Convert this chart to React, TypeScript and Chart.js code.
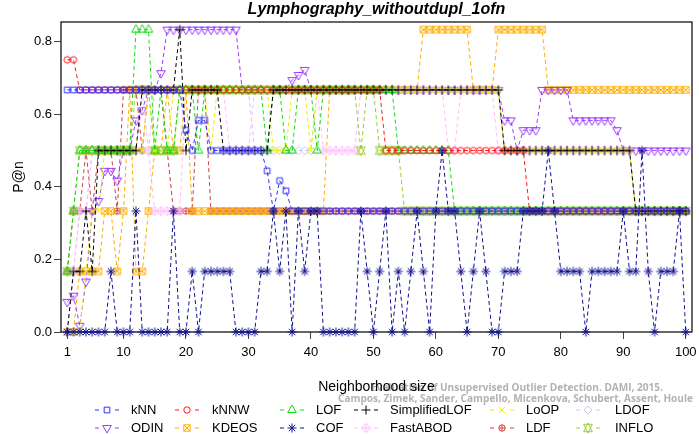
import React, { useEffect, useRef } from "react";
import { Chart, registerables } from "chart.js";
Chart.register(...registerables);

// x categories: neighborhood size k = 1..100
const neighborhoodSizes: number[] = Array.from({ length: 100 }, (_, i) => i + 1);
const xTickValues = [1, 10, 20, 30, 40, 50, 60, 70, 80, 90, 100];
const yTickValues = [0, 0.2, 0.4, 0.6, 0.8];

const kNN = [
  0.667, 0.667, 0.667, 0.667, 0.667, 0.667, 0.667, 0.667, 0.667, 0.667,
  0.667, 0.667, 0.667, 0.667, 0.667, 0.667, 0.667, 0.667, 0.667, 0.556,
  0.5, 0.583, 0.583, 0.5, 0.5, 0.5, 0.5, 0.5, 0.5, 0.5,
  0.5, 0.5, 0.444, 0.333, 0.417, 0.389, 0.333, 0.333, 0.333, 0.333,
  0.333, 0.333, 0.333, 0.333, 0.333, 0.333, 0.333, 0.333, 0.333, 0.333,
  0.333, 0.333, 0.333, 0.333, 0.333, 0.333, 0.333, 0.333, 0.333, 0.333,
  0.333, 0.333, 0.333, 0.333, 0.333, 0.333, 0.333, 0.333, 0.333, 0.333,
  0.333, 0.333, 0.333, 0.333, 0.333, 0.333, 0.333, 0.333, 0.333, 0.333,
  0.333, 0.333, 0.333, 0.333, 0.333, 0.333, 0.333, 0.333, 0.333, 0.333,
  0.333, 0.333, 0.333, 0.333, 0.333, 0.333, 0.333, 0.333, 0.333, 0.333,
];
const kNNW = [
  0.75, 0.75, 0.667, 0.667, 0.667, 0.667, 0.667, 0.667, 0.667, 0.667,
  0.667, 0.667, 0.667, 0.667, 0.667, 0.667, 0.667, 0.667, 0.667, 0.667,
  0.667, 0.667, 0.667, 0.667, 0.667, 0.667, 0.667, 0.667, 0.667, 0.667,
  0.667, 0.667, 0.667, 0.667, 0.667, 0.667, 0.667, 0.667, 0.667, 0.667,
  0.667, 0.667, 0.667, 0.667, 0.667, 0.667, 0.667, 0.667, 0.667, 0.667,
  0.667, 0.5, 0.5, 0.5, 0.5, 0.5, 0.5, 0.5, 0.5, 0.5,
  0.5, 0.5, 0.5, 0.5, 0.5, 0.5, 0.5, 0.5, 0.5, 0.5,
  0.5, 0.5, 0.5, 0.5, 0.333, 0.333, 0.333, 0.333, 0.333, 0.333,
  0.333, 0.333, 0.333, 0.333, 0.333, 0.333, 0.333, 0.333, 0.333, 0.333,
  0.333, 0.333, 0.333, 0.333, 0.333, 0.333, 0.333, 0.333, 0.333, 0.333,
];
const LOF = [
  0.167, 0.333, 0.5, 0.5, 0.5, 0.5, 0.5, 0.5, 0.5, 0.5,
  0.5, 0.833, 0.833, 0.833, 0.5, 0.667, 0.5, 0.5, 0.667, 0.667,
  0.667, 0.5, 0.667, 0.667, 0.667, 0.667, 0.667, 0.667, 0.667, 0.667,
  0.667, 0.667, 0.5, 0.667, 0.667, 0.5, 0.5, 0.667, 0.667, 0.667,
  0.5, 0.667, 0.667, 0.667, 0.667, 0.667, 0.667, 0.667, 0.667, 0.667,
  0.667, 0.667, 0.667, 0.5, 0.5, 0.5, 0.5, 0.5, 0.5, 0.5,
  0.5, 0.5, 0.333, 0.333, 0.333, 0.333, 0.333, 0.333, 0.333, 0.333,
  0.333, 0.333, 0.333, 0.333, 0.333, 0.333, 0.333, 0.333, 0.333, 0.333,
  0.333, 0.333, 0.333, 0.333, 0.333, 0.333, 0.333, 0.333, 0.333, 0.333,
  0.333, 0.333, 0.333, 0.333, 0.333, 0.333, 0.333, 0.333, 0.333, 0.333,
];
const SimplifiedLOF = [
  0, 0.167, 0.167, 0.333, 0.167, 0.5, 0.5, 0.5, 0.5, 0.5,
  0.5, 0.5, 0.667, 0.667, 0.667, 0.667, 0.667, 0.667, 0.833, 0.5,
  0.667, 0.667, 0.667, 0.667, 0.667, 0.5, 0.5, 0.5, 0.5, 0.5,
  0.5, 0.5, 0.5, 0.667, 0.667, 0.667, 0.667, 0.667, 0.667, 0.667,
  0.667, 0.667, 0.667, 0.667, 0.667, 0.667, 0.667, 0.667, 0.667, 0.667,
  0.667, 0.667, 0.667, 0.667, 0.667, 0.667, 0.667, 0.667, 0.667, 0.667,
  0.667, 0.667, 0.667, 0.667, 0.667, 0.667, 0.667, 0.667, 0.667, 0.667,
  0.5, 0.5, 0.5, 0.5, 0.5, 0.5, 0.5, 0.5, 0.5, 0.5,
  0.5, 0.5, 0.5, 0.5, 0.5, 0.5, 0.5, 0.5, 0.5, 0.5,
  0.5, 0.333, 0.333, 0.333, 0.333, 0.333, 0.333, 0.333, 0.333, 0.333,
];
const LoOP = [
  0, 0, 0, 0.167, 0.333, 0.333, 0.5, 0.5, 0.5, 0.5,
  0.5, 0.5, 0.5, 0.667, 0.5, 0.5, 0.5, 0.667, 0.667, 0.667,
  0.667, 0.667, 0.667, 0.5, 0.667, 0.667, 0.667, 0.667, 0.667, 0.667,
  0.667, 0.667, 0.667, 0.5, 0.5, 0.5, 0.667, 0.667, 0.667, 0.5,
  0.667, 0.667, 0.667, 0.667, 0.667, 0.667, 0.667, 0.667, 0.667, 0.667,
  0.667, 0.667, 0.667, 0.667, 0.667, 0.667, 0.667, 0.667, 0.667, 0.667,
  0.667, 0.667, 0.667, 0.667, 0.667, 0.667, 0.667, 0.667, 0.667, 0.667,
  0.5, 0.5, 0.5, 0.5, 0.5, 0.5, 0.5, 0.5, 0.5, 0.5,
  0.5, 0.5, 0.5, 0.5, 0.5, 0.5, 0.5, 0.5, 0.5, 0.5,
  0.5, 0.333, 0.333, 0.333, 0.333, 0.333, 0.333, 0.333, 0.333, 0.333,
];
const LDOF = [
  0, 0.167, 0.333, 0.333, 0.5, 0.5, 0.5, 0.5, 0.5, 0.5,
  0.5, 0.5, 0.5, 0.5, 0.667, 0.667, 0.667, 0.667, 0.667, 0.667,
  0.667, 0.667, 0.667, 0.667, 0.667, 0.667, 0.667, 0.667, 0.667, 0.667,
  0.5, 0.5, 0.5, 0.5, 0.5, 0.5, 0.5, 0.5, 0.5, 0.5,
  0.667, 0.667, 0.667, 0.667, 0.667, 0.667, 0.667, 0.667, 0.667, 0.667,
  0.667, 0.667, 0.667, 0.667, 0.667, 0.667, 0.667, 0.667, 0.667, 0.667,
  0.667, 0.667, 0.667, 0.667, 0.667, 0.667, 0.667, 0.667, 0.667, 0.667,
  0.5, 0.5, 0.5, 0.5, 0.5, 0.5, 0.5, 0.5, 0.5, 0.5,
  0.5, 0.5, 0.5, 0.5, 0.5, 0.5, 0.5, 0.5, 0.5, 0.5,
  0.5, 0.333, 0.333, 0.333, 0.333, 0.333, 0.333, 0.333, 0.333, 0.333,
];
const ODIN = [
  0.083, 0.1, 0.017, 0.139, 0.333, 0.361, 0.444, 0.444, 0.417, 0.5,
  0.5, 0.583, 0.611, 0.667, 0.667, 0.713, 0.833, 0.833, 0.833, 0.833,
  0.833, 0.833, 0.833, 0.833, 0.833, 0.833, 0.833, 0.833, 0.667, 0.667,
  0.667, 0.667, 0.667, 0.667, 0.667, 0.667, 0.694, 0.708, 0.722, 0.667,
  0.667, 0.667, 0.667, 0.667, 0.667, 0.667, 0.667, 0.667, 0.667, 0.667,
  0.667, 0.667, 0.667, 0.667, 0.667, 0.667, 0.667, 0.667, 0.667, 0.667,
  0.667, 0.667, 0.667, 0.667, 0.667, 0.667, 0.667, 0.667, 0.667, 0.667,
  0.583, 0.583, 0.5, 0.556, 0.556, 0.556, 0.667, 0.667, 0.667, 0.667,
  0.667, 0.583, 0.583, 0.583, 0.583, 0.583, 0.583, 0.583, 0.556, 0.5,
  0.5, 0.5, 0.5, 0.5, 0.5, 0.5, 0.5, 0.5, 0.5, 0.5,
];
const KDEOS = [
  0, 0, 0.167, 0.167, 0.167, 0.167, 0.333, 0.333, 0.167, 0.333,
  0.667, 0.167, 0.167, 0.333, 0.5, 0.5, 0.667, 0.5, 0.5, 0.667,
  0.333, 0.333, 0.333, 0.333, 0.333, 0.333, 0.333, 0.333, 0.333, 0.333,
  0.333, 0.333, 0.333, 0.333, 0.333, 0.333, 0.333, 0.333, 0.333, 0.333,
  0.333, 0.333, 0.667, 0.667, 0.667, 0.667, 0.667, 0.667, 0.667, 0.667,
  0.667, 0.667, 0.667, 0.667, 0.667, 0.667, 0.667, 0.833, 0.833, 0.833,
  0.833, 0.833, 0.833, 0.833, 0.833, 0.667, 0.667, 0.667, 0.667, 0.833,
  0.833, 0.833, 0.833, 0.833, 0.833, 0.833, 0.833, 0.667, 0.667, 0.667,
  0.667, 0.667, 0.667, 0.667, 0.667, 0.667, 0.667, 0.667, 0.667, 0.667,
  0.667, 0.667, 0.667, 0.667, 0.667, 0.667, 0.667, 0.667, 0.667, 0.667,
];
const COF = [
  0, 0, 0, 0, 0, 0, 0, 0.167, 0, 0,
  0, 0.333, 0, 0, 0, 0, 0, 0.333, 0, 0,
  0.167, 0, 0.167, 0.167, 0.167, 0.167, 0.167, 0, 0, 0,
  0, 0.167, 0.167, 0.333, 0.167, 0.333, 0, 0.333, 0.167, 0.333,
  0.333, 0, 0, 0, 0, 0, 0, 0.333, 0.167, 0,
  0.167, 0.333, 0, 0.167, 0, 0.167, 0.333, 0.167, 0, 0.333,
  0.5, 0.333, 0.333, 0.167, 0, 0.167, 0.333, 0.167, 0, 0,
  0.167, 0.167, 0.167, 0.333, 0.333, 0.333, 0.333, 0.5, 0.333, 0.167,
  0.167, 0.167, 0.167, 0, 0.167, 0.167, 0.167, 0.167, 0.167, 0.333,
  0.167, 0.167, 0.5, 0.167, 0, 0.167, 0.167, 0.167, 0.333, 0,
];
const FastABOD = [
  0, 0.167, 0.333, 0.333, 0.5, 0.5, 0.5, 0.5, 0.5, 0.5,
  0.5, 0.5, 0.667, 0.5, 0.333, 0.333, 0.333, 0.333, 0.333, 0.667,
  0.667, 0.667, 0.667, 0.667, 0.667, 0.667, 0.5, 0.5, 0.5, 0.5,
  0.667, 0.667, 0.667, 0.667, 0.667, 0.667, 0.667, 0.667, 0.667, 0.667,
  0.667, 0.5, 0.5, 0.5, 0.5, 0.5, 0.5, 0.667, 0.667, 0.667,
  0.667, 0.667, 0.667, 0.667, 0.667, 0.667, 0.667, 0.667, 0.667, 0.667,
  0.667, 0.5, 0.5, 0.667, 0.667, 0.667, 0.667, 0.667, 0.667, 0.5,
  0.5, 0.5, 0.5, 0.5, 0.5, 0.5, 0.5, 0.5, 0.5, 0.5,
  0.5, 0.5, 0.5, 0.5, 0.5, 0.5, 0.5, 0.5, 0.5, 0.5,
  0.5, 0.333, 0.333, 0.333, 0.333, 0.333, 0.333, 0.333, 0.333, 0.333,
];
const LDF = [
  0.167, 0.333, 0.333, 0.5, 0.333, 0.5, 0.5, 0.5, 0.333, 0.667,
  0.667, 0.667, 0.5, 0.667, 0.667, 0.667, 0.5, 0.333, 0.333, 0.333,
  0.333, 0.667, 0.667, 0.333, 0.333, 0.333, 0.333, 0.333, 0.333, 0.333,
  0.333, 0.333, 0.333, 0.333, 0.333, 0.333, 0.333, 0.333, 0.333, 0.333,
  0.333, 0.333, 0.333, 0.333, 0.333, 0.333, 0.333, 0.333, 0.333, 0.333,
  0.333, 0.333, 0.333, 0.333, 0.333, 0.333, 0.333, 0.333, 0.333, 0.333,
  0.333, 0.333, 0.333, 0.333, 0.333, 0.333, 0.333, 0.333, 0.333, 0.333,
  0.333, 0.333, 0.333, 0.333, 0.333, 0.333, 0.333, 0.333, 0.333, 0.333,
  0.333, 0.333, 0.333, 0.333, 0.333, 0.333, 0.333, 0.333, 0.333, 0.333,
  0.333, 0.333, 0.333, 0.333, 0.333, 0.333, 0.333, 0.333, 0.333, 0.333,
];
const INFLO = [
  0.167, 0.333, 0.5, 0.5, 0.5, 0.5, 0.5, 0.5, 0.5, 0.5,
  0.5, 0.667, 0.667, 0.667, 0.5, 0.5, 0.5, 0.5, 0.667, 0.667,
  0.667, 0.667, 0.667, 0.667, 0.667, 0.667, 0.667, 0.667, 0.667, 0.667,
  0.667, 0.667, 0.667, 0.667, 0.667, 0.667, 0.667, 0.667, 0.667, 0.667,
  0.667, 0.667, 0.667, 0.667, 0.667, 0.667, 0.667, 0.5, 0.667, 0.667,
  0.5, 0.5, 0.5, 0.5, 0.333, 0.333, 0.333, 0.333, 0.333, 0.333,
  0.333, 0.333, 0.333, 0.333, 0.333, 0.333, 0.333, 0.333, 0.333, 0.333,
  0.333, 0.333, 0.333, 0.333, 0.333, 0.333, 0.333, 0.333, 0.333, 0.333,
  0.333, 0.333, 0.333, 0.333, 0.333, 0.333, 0.333, 0.333, 0.333, 0.333,
  0.333, 0.333, 0.333, 0.333, 0.333, 0.333, 0.333, 0.333, 0.333, 0.333,
];

const seriesNames = ["kNN", "kNNW", "LOF", "SimplifiedLOF", "LoOP", "LDOF", "ODIN", "KDEOS", "COF", "FastABOD", "LDF", "INFLO"];
const seriesValues = [kNN, kNNW, LOF, SimplifiedLOF, LoOP, LDOF, ODIN, KDEOS, COF, FastABOD, LDF, INFLO];

// styles (kept apart from the data)
const seriesColors = ["#3030ff", "#ff1a1a", "#11dd11", "#000000", "#eeee00", "#c8c8f2", "#9a3cff", "#ffad00", "#10108f", "#ffbbff", "#cc4040", "#9acd32"];
const seriesPch = [0, 1, 2, 3, 4, 5, 6, 7, 8, 9, 10, 11];
// lower number = drawn on top
const seriesDrawOrder = [2, 4, 5, 3, 7, 9, 10, 11, 1, 8, 12, 6];
const legendSymX = [107, 187, 292, 366, 502, 588];
const legendTextX = [131, 212, 316, 390, 526, 615];
const legendRowY = [410, 428];

const RAD = 3.2;
function drawSymbol(ctx: CanvasRenderingContext2D, pch: number, x: number, y: number, color: string) {
  const R = RAD;
  const TRC0 = 1.5551, TRC1 = 1.3468, TRC2 = 0.7776;
  ctx.save();
  ctx.strokeStyle = color;
  ctx.lineWidth = 1;
  ctx.setLineDash([]);
  const seg = (x1: number, y1: number, x2: number, y2: number) => { ctx.moveTo(x1, y1); ctx.lineTo(x2, y2); };
  const diamond = (s: number) => { ctx.moveTo(x - s, y); ctx.lineTo(x, y - s); ctx.lineTo(x + s, y); ctx.lineTo(x, y + s); ctx.closePath(); };
  ctx.beginPath();
  switch (pch) {
    case 0: { const s = R * 0.886; ctx.rect(x - s, y - s, 2 * s, 2 * s); break; }
    case 1: ctx.arc(x, y, R, 0, Math.PI * 2); break;
    case 2:
    case 6: {
      const r = TRC0 * R, yc = TRC2 * R, xc = TRC1 * R, d = pch === 2 ? 1 : -1;
      ctx.moveTo(x, y - d * r); ctx.lineTo(x + xc, y + d * yc); ctx.lineTo(x - xc, y + d * yc); ctx.closePath();
      break;
    }
    case 3: { const s = Math.SQRT2 * R; seg(x - s, y, x + s, y); seg(x, y - s, x, y + s); break; }
    case 4: { const s = R; seg(x - s, y - s, x + s, y + s); seg(x - s, y + s, x + s, y - s); break; }
    case 5: diamond(1.2533 * R); break;
    case 7: { const s = R; ctx.rect(x - s, y - s, 2 * s, 2 * s); seg(x - s, y - s, x + s, y + s); seg(x - s, y + s, x + s, y - s); break; }
    case 8: {
      const s = R; seg(x - s, y - s, x + s, y + s); seg(x - s, y + s, x + s, y - s);
      const t = Math.SQRT2 * s; seg(x - t, y, x + t, y); seg(x, y - t, x, y + t); break;
    }
    case 9: { const s = Math.SQRT2 * R; seg(x - s, y, x + s, y); seg(x, y - s, x, y + s); diamond(s); break; }
    case 10: { ctx.arc(x, y, R, 0, Math.PI * 2); ctx.moveTo(x - R, y); ctx.lineTo(x + R, y); seg(x, y - R, x, y + R); break; }
    case 11: {
      const r = TRC0 * R; const yc = 0.5 * (TRC2 * R + r); const xc = TRC1 * R;
      ctx.moveTo(x, y - r); ctx.lineTo(x + xc, y + yc); ctx.lineTo(x - xc, y + yc); ctx.closePath();
      ctx.moveTo(x, y + r); ctx.lineTo(x + xc, y - yc); ctx.lineTo(x - xc, y - yc); ctx.closePath();
      break;
    }
  }
  ctx.stroke();
  ctx.restore();
}

function makeSymbolCanvas(pch: number, color: string): HTMLCanvasElement {
  const c = document.createElement("canvas");
  c.width = 16; c.height = 16;
  const g = c.getContext("2d")!;
  drawSymbol(g, pch, 8, 8, color);
  return c;
}

const FONT = '"Liberation Sans", Arial, Helvetica, sans-serif';

const decorPlugin = {
  id: "decor",
  beforeDatasetsDraw(chart: any) {
    const { ctx, chartArea: a } = chart;
    ctx.save();
    ctx.strokeStyle = "#000";
    ctx.lineWidth = 1.2;
    ctx.setLineDash([]);
    ctx.strokeRect(a.left, a.top, a.right - a.left, a.bottom - a.top);
    ctx.restore();
  },
  afterDraw(chart: any) {
    const { ctx, chartArea: a } = chart;
    ctx.save();
    // title
    ctx.fillStyle = "#000";
    ctx.font = `italic bold 16px ${FONT}`;
    ctx.textAlign = "center";
    ctx.textBaseline = "middle";
    ctx.fillText("Lymphography_withoutdupl_1ofn", (a.left + a.right) / 2, 10);
    // y title
    ctx.save();
    ctx.translate(19, (a.top + a.bottom) / 2);
    ctx.rotate(-Math.PI / 2);
    ctx.font = `14px ${FONT}`;
    ctx.fillText("P@n", 0, 0);
    ctx.restore();
    // watermark
    ctx.fillStyle = "#b2b2b2";
    ctx.font = 'bold 11px "Open Sans", "DejaVu Sans", sans-serif';
    ctx.textAlign = "right";
    const l1 = "Unsupervised Outlier Detection. DAMI, 2015.";
    const l1pre = "Evaluation of ";
    const sx1 = 223 / ctx.measureText(l1).width;
    ctx.save(); ctx.translate(663, 388); ctx.scale(sx1, 1); ctx.fillText(l1pre + l1, 0, 0); ctx.restore();
    const l2 = "Campos, Zimek, Sander, Campello, Micenkova, Schubert, Assent, Houle";
    const sx2 = 355 / ctx.measureText(l2).width;
    ctx.save(); ctx.translate(693, 399); ctx.scale(sx2, 1); ctx.fillText(l2, 0, 0); ctx.restore();
    // x title
    ctx.fillStyle = "#000";
    ctx.textAlign = "center";
    ctx.font = `14px ${FONT}`;
    ctx.fillText("Neighborhood size", (a.left + a.right) / 2, 387);
    // legend
    ctx.font = `13px ${FONT}`;
    ctx.textAlign = "left";
    seriesNames.forEach((name, i) => {
      const row = Math.floor(i / 6), col = i % 6;
      const cx = legendSymX[col], cy = legendRowY[row];
      const color = seriesColors[i];
      ctx.save();
      ctx.strokeStyle = color;
      ctx.lineWidth = 1;
      ctx.beginPath();
      ctx.moveTo(cx - 12, cy); ctx.lineTo(cx - 8, cy);
      ctx.moveTo(cx + 8, cy); ctx.lineTo(cx + 12, cy);
      ctx.stroke();
      ctx.restore();
      drawSymbol(ctx, seriesPch[i], cx, cy, color);
      ctx.fillStyle = "#000";
      ctx.fillText(name, legendTextX[col], cy);
    });
    ctx.restore();
  },
};

export default function App() {
  const ref = useRef<HTMLCanvasElement>(null);
  useEffect(() => {
    document.body.style.margin = "0";
    const symbols = seriesPch.map((p, i) => makeSymbolCanvas(p, seriesColors[i]));
    const datasets = seriesNames.map((name, i) => ({
      label: name,
      data: neighborhoodSizes.map((k, j) => ({ x: k, y: seriesValues[i][j] })),
      borderColor: seriesColors[i],
      backgroundColor: seriesColors[i],
      borderWidth: 1,
      borderDash: [4, 3],
      pointStyle: symbols[i] as any,
      pointRadius: 4,
      pointHoverRadius: 4,
      tension: 0,
      fill: false,
      clip: false as any,
      order: seriesDrawOrder[i],
    }));
    const chart = new Chart(ref.current!, {
      type: "line",
      data: { datasets },
      options: {
        responsive: false,
        animation: false,
        events: [],
        layout: { padding: { top: 22, right: 7, left: 0, bottom: 0 } },
        plugins: { legend: { display: false }, title: { display: false }, tooltip: { enabled: false } },
        scales: {
          x: {
            type: "linear",
            min: 0,
            max: 101,
            afterBuildTicks: (s: any) => { s.ticks = xTickValues.map((v) => ({ value: v })); },
            afterFit: (s: any) => { s.height = 102; s.paddingLeft = 0; s.paddingRight = 0; },
            grid: { drawOnChartArea: false, drawTicks: true, tickLength: 7, color: "#444", lineWidth: 1 },
            border: { display: false },
            ticks: { color: "#000", font: { family: FONT, size: 13 }, padding: 6, maxRotation: 0, autoSkip: false, callback: (v: any) => String(v) },
          },
          y: {
            type: "linear",
            min: 0,
            max: 0.854,
            afterBuildTicks: (s: any) => { s.ticks = yTickValues.map((v) => ({ value: v })); },
            afterFit: (s: any) => { s.width = 61; s.paddingTop = 0; s.paddingBottom = 0; },
            grid: { drawOnChartArea: false, drawTicks: true, tickLength: 7, color: "#444", lineWidth: 1 },
            border: { display: false },
            ticks: { color: "#000", font: { family: FONT, size: 13 }, padding: 2, callback: (v: any) => Number(v).toFixed(1) },
          },
        },
      },
      plugins: [decorPlugin],
    });
    return () => chart.destroy();
  }, []);
  return (
    <div style={{ width: 699, height: 434, background: "#fff" }}>
      <canvas ref={ref} width={699} height={434} style={{ display: "block" }} />
    </div>
  );
}
